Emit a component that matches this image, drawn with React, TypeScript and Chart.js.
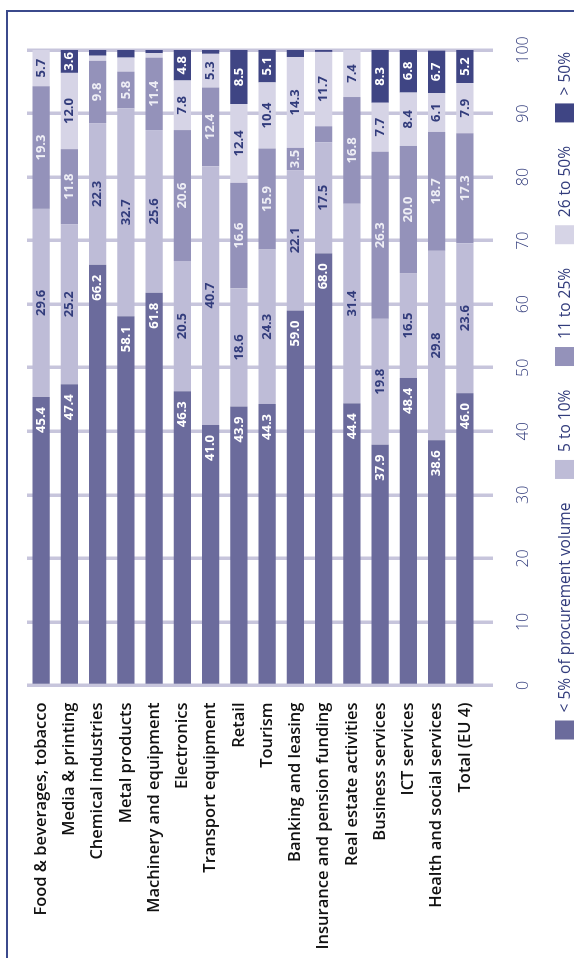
import React, { useEffect, useRef } from "react";
import { Chart, registerables } from "chart.js";

Chart.register(...registerables);

// Sectors, top to bottom
const categories = [
  "Food & beverages, tobacco",
  "Media & printing",
  "Chemical industries",
  "Metal products",
  "Machinery and equipment",
  "Electronics",
  "Transport equipment",
  "Retail",
  "Tourism",
  "Banking and leasing",
  "Insurance and pension funding",
  "Real estate activities",
  "Business services",
  "ICT services",
  "Health and social services",
  "Total (EU 4)",
];

// Share of firms (%) by e-procurement share of procurement volume
const under5 = [45.4, 47.4, 66.2, 58.1, 61.8, 46.3, 41.0, 43.9, 44.3, 59.0, 68.0, 44.4, 37.9, 48.4, 38.6, 46.0];
const from5to10 = [29.6, 25.2, 22.3, 32.7, 25.6, 20.5, 40.7, 18.6, 24.3, 22.1, 17.5, 31.4, 19.8, 16.5, 29.8, 23.6];
const from11to25 = [19.3, 11.8, 9.8, 5.8, 11.4, 20.6, 12.4, 16.6, 15.9, 3.5, 2.5, 16.8, 26.3, 20.0, 18.7, 17.3];
const from26to50 = [5.7, 12.0, 0.8, 2.2, 0.7, 7.8, 5.3, 12.4, 10.4, 14.3, 11.7, 7.4, 7.7, 8.4, 6.1, 7.9];
const over50 = [0, 3.6, 0.9, 1.2, 0.5, 4.8, 0.6, 8.5, 5.1, 1.1, 0.3, 0, 8.3, 6.8, 6.7, 5.2];

const seriesNames = ["< 5% of procurement volume", "5 to 10%", "11 to 25%", "26 to 50%", "> 50%"];
const seriesValues = [under5, from5to10, from11to25, from26to50, over50];

const seriesColors = ["#6b6b9c", "#bebcd7", "#9492ba", "#d6d4e6", "#3f4584"];
const valueLabelColors = ["#ffffff", "#323c7c", "#eeeef5", "#323c7c", "#ffffff"];
const navy = "#323c7c";
const gridColor = "#c7c5dc";
const FONT = "'Open Sans', 'DejaVu Sans', sans-serif";

// Value labels inside each stacked segment
const segmentLabels = {
  id: "segmentLabels",
  afterDatasetsDraw(chart: any) {
    const ctx = chart.ctx;
    ctx.save();
    ctx.font = `700 13px ${FONT}`;
    ctx.textBaseline = "middle";
    chart.data.datasets.forEach((ds: any, di: number) => {
      const meta = chart.getDatasetMeta(di);
      meta.data.forEach((bar: any, i: number) => {
        const v = ds.data[i];
        if (v < 3) return;
        const { x, y, base } = bar.getProps(["x", "y", "base"], true);
        ctx.fillStyle = valueLabelColors[di];
        const text = v.toFixed(1);
        if (di === 0) {
          ctx.textAlign = "right";
          ctx.fillText(text, x - 10, y);
        } else {
          ctx.textAlign = "center";
          ctx.fillText(text, (x + base) / 2, y);
        }
      });
    });
    ctx.restore();
  },
};

// One-row legend along the bottom edge, spread from just left of the
// plot area to its right edge
const legendRow = {
  id: "legendRow",
  afterDraw(chart: any) {
    const ctx = chart.ctx;
    const box = 19;
    const gapText = 8;
    ctx.save();
    ctx.font = `400 15.5px ${FONT}`;
    ctx.textBaseline = "middle";
    ctx.textAlign = "left";
    const items = chart.data.datasets.map((ds: any) => ({
      label: ds.label as string,
      color: ds.backgroundColor as string,
      w: ctx.measureText(ds.label).width,
    }));
    const start = chart.chartArea.left - 54;
    const end = chart.chartArea.right - 2;
    const used = items.reduce((s: number, it: any) => s + box + gapText + it.w, 0);
    const gapItem = (end - start - used) / (items.length - 1);
    let x = start;
    const top = chart.height - box;
    items.forEach((it: any) => {
      ctx.fillStyle = it.color;
      ctx.fillRect(x, top, box, box);
      x += box + gapText;
      ctx.fillStyle = navy;
      ctx.fillText(it.label, x, top + box / 2 + 1);
      x += it.w + gapItem;
    });
    ctx.restore();
  },
};

export default function App() {
  const canvasRef = useRef<HTMLCanvasElement | null>(null);

  useEffect(() => {
    if (!canvasRef.current) return;
    const chart = new Chart(canvasRef.current, {
      type: "bar",
      data: {
        labels: categories,
        datasets: seriesNames.map((name, i) => ({
          label: name,
          data: seriesValues[i],
          backgroundColor: seriesColors[i],
          borderWidth: 0,
          barPercentage: 0.61,
          categoryPercentage: 1,
        })),
      },
      options: {
        indexAxis: "y",
        animation: false,
        responsive: false,
        devicePixelRatio: 1,
        layout: { padding: { left: 10, top: 21, right: 50, bottom: 40 } },
        plugins: {
          legend: { display: false },
          tooltip: { enabled: false },
        },
        scales: {
          x: {
            stacked: true,
            min: 0,
            max: 100,
            border: { display: false },
            grid: { color: gridColor, lineWidth: 3.5, tickLength: 14, drawTicks: true },
            ticks: {
              stepSize: 10,
              color: navy,
              padding: 21,
              font: { family: FONT, size: 16, weight: "300" },
            },
            afterFit(scale: any) {
              scale.height = 55;
            },
          },
          y: {
            stacked: true,
            border: { display: false },
            grid: { display: false, drawTicks: false },
            ticks: {
              color: "#111111",
              padding: 17,
              autoSkip: false,
              font: { family: FONT, size: 16.5, weight: "600" },
            },
            afterFit(scale: any) {
              scale.width = 262.5;
            },
          },
        },
      } as any,
      plugins: [segmentLabels, legendRow],
    });
    return () => chart.destroy();
  }, []);

  return (
    <div
      style={{
        position: "absolute",
        left: 0,
        top: 0,
        width: 574,
        height: 958,
        overflow: "hidden",
        background: "#ffffff",
      }}
    >
      <div
        style={{
          position: "absolute",
          left: 6,
          top: 10,
          width: 566,
          height: 946,
          borderLeft: "2px solid #3b4a8c",
          borderTop: "2px solid #3b4a8c",
        }}
      />
      <div
        style={{
          position: "absolute",
          left: 0,
          top: 0,
          width: 958,
          height: 574,
          transformOrigin: "0 0",
          transform: "translate(0px, 958px) rotate(-90deg)",
        }}
      >
        <canvas ref={canvasRef} width={958} height={574} style={{ display: "block", width: 958, height: 574 }} />
      </div>
    </div>
  );
}
